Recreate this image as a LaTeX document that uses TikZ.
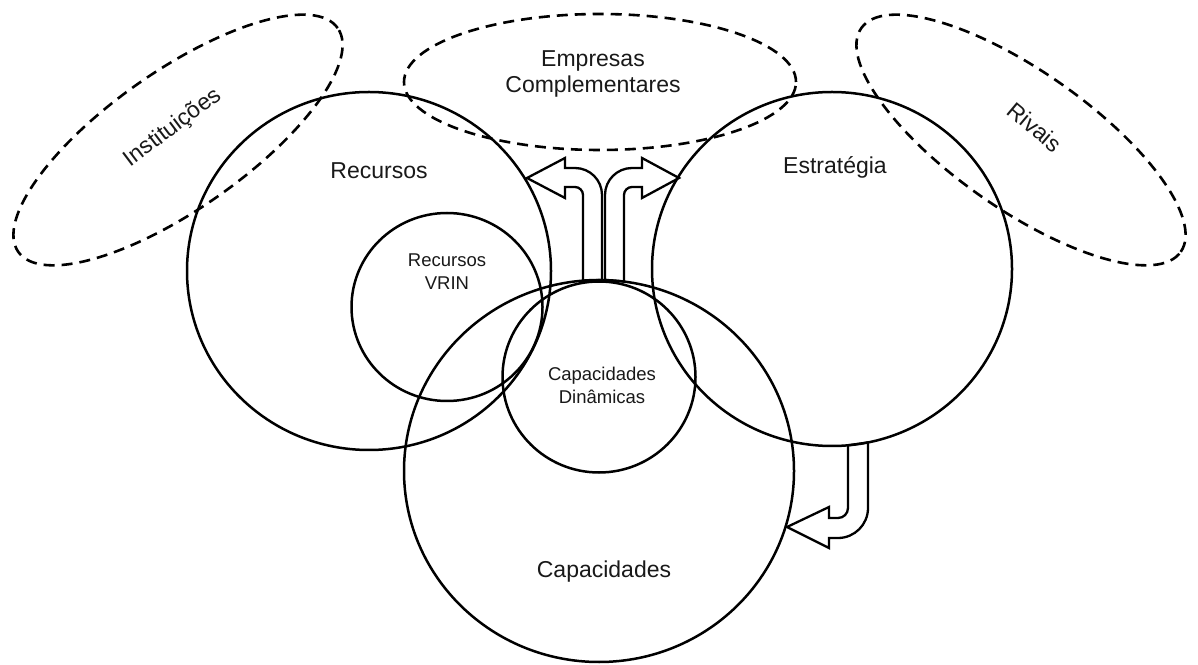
\documentclass[tikz,border=0pt]{standalone}
\usepackage{fontspec}
\setmainfont{Liberation Sans}
\usetikzlibrary{shapes.geometric}
\begin{document}
\begin{tikzpicture}[x=1pt,y=1pt,
  ring/.style={ellipse, draw, line width=2.5pt, inner sep=0pt, outer sep=0pt},
  cloudring/.style={ellipse, draw, dash pattern=on 11pt off 7pt, line width=2.6pt, inner sep=0pt, outer sep=0pt},
  bigtext/.style={font=\fontsize{23}{26}\selectfont, text=black!90, align=center, inner sep=0pt},
  smalltext/.style={font=\fontsize{18.5}{23}\selectfont, text=black!90, align=center, inner sep=0pt},
  barrow/.style={draw, fill=white, line width=2.3pt, line join=miter}]
\fill[white] (0,0) rectangle (1198,664);
\useasboundingbox (0,0) rectangle (1198,664);

% dashed environment ellipses
\node[cloudring, minimum width=390pt, minimum height=138pt, rotate=35] (inst) at (178,524) {};
\node[cloudring, minimum width=392pt, minimum height=136pt] (emp) at (600,582) {};
\node[cloudring, minimum width=390pt, minimum height=138pt, rotate=-35] (riv) at (1021,524) {};

% block arrows
\coordinate (upL) at (583,383.5);
\coordinate (upR) at (624,382.5);
\coordinate (dnA) at (848,218.7);
\coordinate (dnB) at (868,221.6);
\draw[barrow] (upL) -- (583,469) arc[start angle=0, end angle=90, radius=8] -- (565,477) -- (565,466)
  -- (527,486) -- (565,506) -- (565,496) -- (575,496) arc[start angle=90, end angle=0, radius=27]
  -- (602,384) -- cycle;
\draw[barrow] (upR) -- (624,469) arc[start angle=180, end angle=90, radius=8] -- (642,477) -- (642,466)
  -- (679,486) -- (642,506) -- (642,496) -- (632,496) arc[start angle=90, end angle=180, radius=27]
  -- (605,384) -- cycle;
\draw[barrow] (dnA) -- (848,156) arc[start angle=0, end angle=-90, radius=10] -- (829,146) -- (829,157)
  -- (787,137) -- (829,116) -- (829,126) -- (838,126) arc[start angle=-90, end angle=0, radius=30]
  -- (dnB) -- cycle;

% circles
\node[ring, minimum width=364pt, minimum height=358pt] (rec) at (369,393) {};
\node[ring, minimum width=360pt, minimum height=354pt] (est) at (832,395) {};
\node[ring, minimum width=390pt, minimum height=382pt] (cap) at (599,193) {};
\node[ring, minimum width=191pt, minimum height=188pt] (vrin) at (447,357) {};
\node[ring, minimum width=193pt, minimum height=191pt] (din) at (599,287) {};

% labels
\node[bigtext, rotate=37] (tinst) at (173,536) {Instituições};
\node[bigtext] (temp) at (593,590) {Empresas\\Complementares};
\node[bigtext, rotate=-40] (triv) at (1035,537) {Rivais};
\node[bigtext] (trec) at (379,493) {Recursos};
\node[bigtext] (test) at (835,497) {Estratégia};
\node[smalltext] (tvrin) at (447,392) {Recursos\\VRIN};
\node[smalltext] (tdin) at (602,279) {Capacidades\\Dinâmicas};
\node[bigtext] (tcap) at (604,92) {Capacidades};
\end{tikzpicture}
\end{document}
